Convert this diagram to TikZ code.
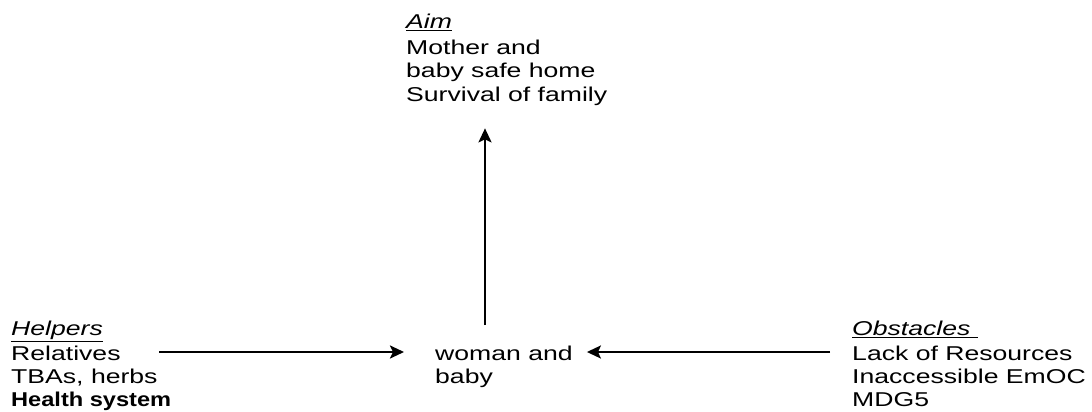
\documentclass[tikz,border=0pt]{standalone}
\usepackage{fontspec}
\setmainfont{Liberation Sans}[FakeStretch=1.33,BoldFeatures={FakeStretch=1.18}]
\usetikzlibrary{arrows.meta}
\newcommand\myul[1]{\underline{#1}}
\tikzset{
  lbl/.style={anchor=base west, align=left, inner sep=0pt, font=\fontsize{20}{22.7}\selectfont},
  arr/.style={line width=2.4pt, -{Stealth[length=14pt,width=13pt,inset=3pt]}}
}
\begin{document}
\begin{tikzpicture}[x=1pt,y=-1pt]
\useasboundingbox (0,0) rectangle (1092,412);
\node[lbl] (aim) at (406,101) {\myul{\textit{Aim}}\\[3pt]Mother and\\baby safe home\\[1pt]Survival of family};
\node[lbl] (helpers) at (11,406) {\myul{\textit{Helpers}}\\[2.7pt]Relatives\\TBAs, herbs\\\textbf{Health system}};
\node[lbl] (woman) at (435,383) {woman and\\baby};
\node[lbl] (obst) at (852,406) {\myul{\textit{Obstacles}\ }\\[2.7pt]Lack of Resources\\Inaccessible EmOC\\MDG5};
\coordinate (hs) at (159,352);
\coordinate (os) at (830,352);
\coordinate (vs) at (485,325);
\draw[arr, shorten >=31pt] (hs) -- (woman.west |- hs);
\draw[arr, shorten >=14pt] (os) -- (woman.east |- os);
\draw[arr, shorten >=23pt] (vs) -- (aim.south -| vs);
\end{tikzpicture}
\end{document}
